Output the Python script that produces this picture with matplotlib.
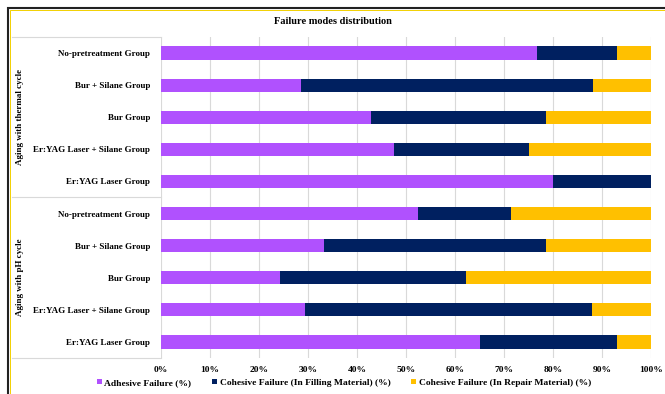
import numpy as np
import matplotlib
matplotlib.use('Agg')
import matplotlib.pyplot as plt
from matplotlib.lines import Line2D
from matplotlib.patches import Rectangle
from matplotlib.transforms import blended_transform_factory

plt.rcParams['font.family'] = 'Liberation Serif'
plt.rcParams['font.weight'] = 'bold'

groups = ['Aging with thermal cycle', 'Aging with pH cycle']
categories = ['No-pretreatment Group', 'Bur + Silane Group', 'Bur Group',
              'Er:YAG Laser + Silane Group', 'Er:YAG Laser Group',
              'No-pretreatment Group', 'Bur + Silane Group', 'Bur Group',
              'Er:YAG Laser + Silane Group', 'Er:YAG Laser Group']
series = ['Adhesive Failure (%)',
          'Cohesive Failure (In Filling Material) (%)',
          'Cohesive Failure (In Repair Material) (%)']
adhesive = [76.7, 28.5, 42.9, 47.6, 80.0, 52.4, 33.3, 24.3, 29.3, 65.1]
cohesive_filling = [16.4, 59.7, 35.7, 27.4, 20.0, 19.0, 45.3, 37.9, 58.6, 28.0]
cohesive_repair = [6.9, 11.8, 21.4, 25.0, 0.0, 28.6, 21.4, 37.8, 12.1, 6.9]
colors = ['#B051FE', '#002060', '#FFC000']

W, H = 665, 394
fig = plt.figure(figsize=(W / 100, H / 100), dpi=100)
ax = fig.add_axes([161 / W, (H - 358) / H, 490 / W, 321 / H])

y = np.arange(len(categories))
left = np.zeros(len(categories))
for vals, name, c in zip([adhesive, cohesive_filling, cohesive_repair], series, colors):
    ax.barh(y, vals, left=left, height=0.41, color=c, label=name, zorder=3)
    left += np.array(vals)

ax.set_xlim(0, 100)
ax.set_ylim(len(categories) - 0.5, -0.5)
ax.set_xticks(np.arange(0, 101, 10))
ax.set_xticklabels([f'{v}%' for v in range(0, 101, 10)], fontsize=6.8)
ax.set_yticks(y)
ax.set_yticklabels(categories, fontsize=6.5)
ax.tick_params(length=0, pad=8)
ax.tick_params(axis='x', pad=6)
ax.grid(axis='x', color='#D9D9D9', linewidth=0.8, zorder=0)
for s in ax.spines.values():
    s.set_visible(False)

# category table lines on the left
tr = blended_transform_factory(fig.transFigure, ax.transData)
for yy in [-0.5, 4.5, 9.5]:
    fig.add_artist(Line2D([12 / W, 161 / W], [yy, yy], transform=tr,
                          color='#D9D9D9', linewidth=0.8))
for txt, yc in zip(groups, [2, 7]):
    fig.text(20 / W, yc, txt, transform=tr, rotation=90, ha='center', va='center',
             fontsize=6.5, fontweight='bold')

fig.text(333 / W, 1 - 22 / H, 'Failure modes distribution', ha='center', va='center',
         fontsize=7.5, fontweight='bold')

fig.legend(loc='center', bbox_to_anchor=(344 / W, 1 - 383 / H), ncol=3, frameon=False,
           fontsize=6.8, handlelength=0.5, handleheight=0.5, handletextpad=0.3,
           columnspacing=2.2, borderpad=0, borderaxespad=0)

# outer border (chart box cut off at right/bottom)
fig.add_artist(Rectangle((8 / W, -0.1), 1.1, 1 - 8 / H + 0.1, transform=fig.transFigure,
                         fill=False, edgecolor='#222222', linewidth=1.5))
fig.add_artist(Rectangle((10 / W, -0.1), 1.1, 1 - 10 / H + 0.1, transform=fig.transFigure,
                         fill=False, edgecolor='#F2D000', linewidth=0.7))

fig.savefig('out.png', dpi=100)
